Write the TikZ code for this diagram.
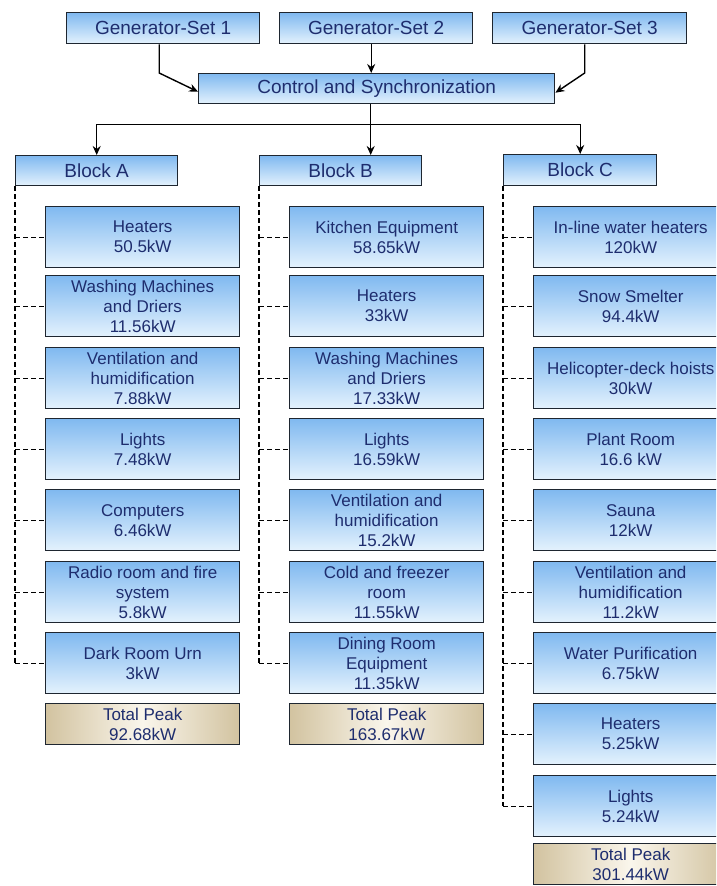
\documentclass[tikz,border=0pt]{standalone}
\usepackage{fontspec}
\setmainfont{Liberation Sans}
\usetikzlibrary{arrows.meta,calc}
\definecolor{bordercol}{RGB}{30,38,48}
\definecolor{txtcol}{RGB}{30,45,110}
\definecolor{itemtop}{RGB}{128,185,240}
\definecolor{itembot}{RGB}{228,242,253}
\definecolor{tanside}{RGB}{210,195,160}
\definecolor{tanmid}{RGB}{250,246,236}
\tikzset{
  boxbase/.style={draw=bordercol, line width=1.4pt, text=txtcol, align=center,
    anchor=north west, inner sep=0pt, top color=itemtop, bottom color=itembot},
  hdr/.style={boxbase, minimum height=31pt, font=\fontsize{19}{22}\selectfont},
  itembox/.style={boxbase, minimum width=194pt, minimum height=61pt,
    font=\fontsize{17}{20}\selectfont},
  totalbox/.style={draw=bordercol, line width=1.4pt, text=txtcol, align=center,
    anchor=north west, inner sep=0pt, minimum width=194pt, minimum height=41pt,
    left color=tanside, right color=tanside, middle color=tanmid,
    font=\fontsize{17}{20}\selectfont},
  arr/.style={draw=black, line width=1.4pt, -{Stealth[length=9pt,width=8pt]}},
  plain/.style={draw=black, line width=1.4pt},
  dashline/.style={draw=black, line width=1.2pt, dash pattern=on 5pt off 3pt}
}
\begin{document}
\begin{tikzpicture}[x=1pt,y=-1pt]
\useasboundingbox[fill=white] (0,0) rectangle (716,886);
\clip (0,0) rectangle (716,886);
% generators and control
\node[hdr, minimum width=193pt] (g1) at (66,12) {Generator-Set 1};
\node[hdr, minimum width=193pt] (g2) at (279,12) {Generator-Set 2};
\node[hdr, minimum width=194pt] (g3) at (492,12) {Generator-Set 3};
\node[hdr, minimum width=356pt, minimum height=30pt] (ctrl) at (198,73) {Control and Synchronization};
% blocks
\node[hdr, minimum width=162pt, minimum height=30pt] (ba) at (15,155) {Block A};
\node[hdr, minimum width=162pt, minimum height=30pt] (bb) at (259,155) {Block B};
\node[hdr, minimum width=153pt] (bc) at (503,154) {Block C};
% arrows
\draw[arr] ([xshift=-4pt]g1.south) -- ([xshift=-4pt]g1.south |- ctrl.north) -- ([yshift=-3pt]ctrl.west);
\draw[arr] ([xshift=-5pt]g2.south) -- ([xshift=-5pt]g2.south |- ctrl.north);
\draw[arr] ([xshift=-5pt]g3.south) -- ([xshift=-5pt]g3.south |- ctrl.north) -- ([yshift=-4pt]ctrl.east);
\coordinate (bus) at ($(ctrl.south)+(-6,20)$);
\draw[plain] ([xshift=-6pt]ctrl.south) -- (bus);
\draw[arr] (bus) -| (ba.north);
\draw[arr] (bus) -- (bus |- bb.north);
\draw[arr] (bus) -| (bc.north);
% Block A
\node[itembox] (a1) at (45,206) {Heaters\\50.5kW};
\node[itembox] (a2) at (45,275) {Washing Machines\\and Driers\\11.56kW};
\node[itembox] (a3) at (45,347) {Ventilation and\\humidification\\7.88kW};
\node[itembox] (a4) at (45,418) {Lights\\7.48kW};
\node[itembox] (a5) at (45,489) {Computers\\6.46kW};
\node[itembox] (a6) at (45,561) {Radio room and fire\\system\\5.8kW};
\node[itembox] (a7) at (45,632) {Dark Room Urn\\3kW};
\node[totalbox] (at) at (45,703) {Total Peak\\92.68kW};
% Block B
\node[itembox] (b1) at (289,206) {Kitchen Equipment\\58.65kW};
\node[itembox] (b2) at (289,275) {Heaters\\33kW};
\node[itembox] (b3) at (289,347) {Washing Machines\\and Driers\\17.33kW};
\node[itembox] (b4) at (289,418) {Lights\\16.59kW};
\node[itembox] (b5) at (289,489) {Ventilation and\\humidification\\15.2kW};
\node[itembox] (b6) at (289,561) {Cold and freezer\\room\\11.55kW};
\node[itembox] (b7) at (289,632) {Dining Room\\Equipment\\11.35kW};
\node[totalbox] (bt) at (289,703) {Total Peak\\163.67kW};
% Block C
\node[itembox] (c1) at (533,206) {In-line water heaters\\120kW};
\node[itembox] (c2) at (533,275) {Snow Smelter\\94.4kW};
\node[itembox] (c3) at (533,347) {Helicopter-deck hoists\\30kW};
\node[itembox] (c4) at (533,418) {Plant Room\\16.6 kW};
\node[itembox] (c5) at (533,489) {Sauna\\12kW};
\node[itembox] (c6) at (533,561) {Ventilation and\\humidification\\11.2kW};
\node[itembox] (c7) at (533,632) {Water Purification\\6.75kW};
\node[itembox] (c8) at (533,703) {Heaters\\5.25kW};
\node[itembox] (c9) at (533,775) {Lights\\5.24kW};
\node[totalbox] (ct) at (533,843) {Total Peak\\301.44kW};
% dashed trees
\draw[dashline] (ba.south west) -- (ba.south west |- a7.west);
\foreach \n in {a1,a2,a3,a4,a5,a6,a7} \draw[dashline] (ba.south west |- \n.west) -- (\n.west);
\draw[dashline] (bb.south west) -- (bb.south west |- b7.west);
\foreach \n in {b1,b2,b3,b4,b5,b6,b7} \draw[dashline] (bb.south west |- \n.west) -- (\n.west);
\draw[dashline] (bc.south west) -- (bc.south west |- c9.west);
\foreach \n in {c1,c2,c3,c4,c5,c6,c7,c8,c9} \draw[dashline] (bc.south west |- \n.west) -- (\n.west);
\end{tikzpicture}
\end{document}
